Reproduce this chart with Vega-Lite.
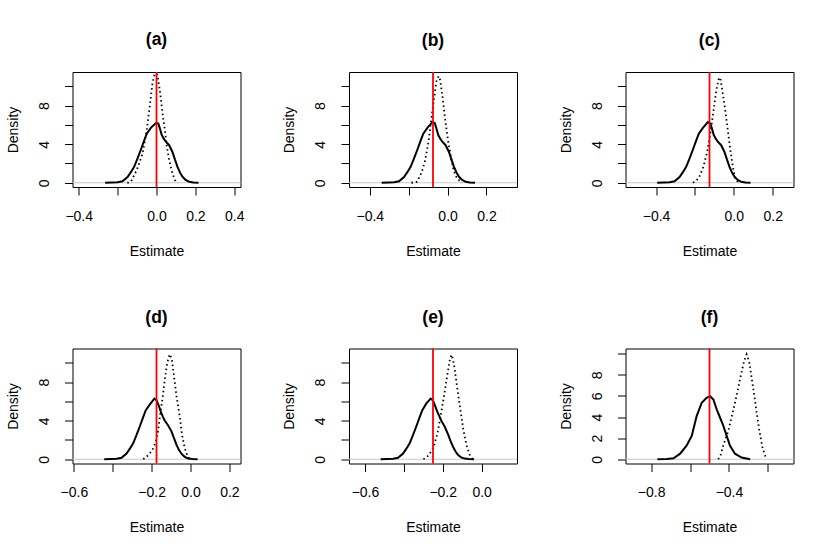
{
  "$schema": "https://vega.github.io/schema/vega-lite/v6.json",
  "padding": {"left": 5.5, "top": 30, "right": 0, "bottom": 0},
  "background": "white",
  "config": {
    "font": "Liberation Sans",
    "view": {"stroke": "black", "strokeWidth": 1},
    "axis": {"domain": false, "grid": false, "tickColor": "black", "tickWidth": 1, "tickSize": 8, "labelColor": "black", "labelFont": "Liberation Sans", "labelFontSize": 14, "titleFont": "Liberation Sans", "titleFontSize": 14, "titleFontWeight": "normal", "titleColor": "black", "labelOverlap": false, "labelFlush": false, "labelBound": false},
    "axisX": {"labelPadding": 25, "labelBaseline": "alphabetic", "labelAlign": "center", "titleX": 84, "titleY": 68, "titleBaseline": "alphabetic", "titleAlign": "center"},
    "axisY": {"labelAngle": 270, "labelAlign": "center", "labelBaseline": "alphabetic", "labelPadding": 16.4, "titleAngle": 270, "titleX": -55.3, "titleY": 57.5, "titleBaseline": "alphabetic", "titleAlign": "center"},
    "title": {"font": "Liberation Sans", "fontSize": 17.5, "fontWeight": "bold", "color": "black", "anchor": "middle", "frame": "group", "offset": 21.5, "baseline": "alphabetic"}
  },
  "datasets": {
    "dens": [
      {"panel":"a","kind":"solid","x":-0.264,"y":0},{"panel":"a","kind":"solid","x":-0.230,"y":0.02},{"panel":"a","kind":"solid","x":-0.200,"y":0.05},{"panel":"a","kind":"solid","x":-0.175,"y":0.15},{"panel":"a","kind":"solid","x":-0.149,"y":0.6},{"panel":"a","kind":"solid","x":-0.132,"y":1.1},{"panel":"a","kind":"solid","x":-0.115,"y":1.66},{"panel":"a","kind":"solid","x":-0.098,"y":2.5},{"panel":"a","kind":"solid","x":-0.081,"y":3.4},{"panel":"a","kind":"solid","x":-0.065,"y":4.3},{"panel":"a","kind":"solid","x":-0.050,"y":5.1},{"panel":"a","kind":"solid","x":-0.029,"y":5.7},{"panel":"a","kind":"solid","x":-0.003,"y":6.2},{"panel":"a","kind":"solid","x":0.009,"y":6.16},{"panel":"a","kind":"solid","x":0.018,"y":5.6},{"panel":"a","kind":"solid","x":0.027,"y":4.95},{"panel":"a","kind":"solid","x":0.038,"y":4.55},{"panel":"a","kind":"solid","x":0.048,"y":4.26},{"panel":"a","kind":"solid","x":0.065,"y":3.9},{"panel":"a","kind":"solid","x":0.082,"y":3.2},{"panel":"a","kind":"solid","x":0.095,"y":2.4},{"panel":"a","kind":"solid","x":0.108,"y":1.66},{"panel":"a","kind":"solid","x":0.121,"y":1.05},{"panel":"a","kind":"solid","x":0.134,"y":0.62},{"panel":"a","kind":"solid","x":0.150,"y":0.3},{"panel":"a","kind":"solid","x":0.168,"y":0.1},{"panel":"a","kind":"solid","x":0.190,"y":0.03},{"panel":"a","kind":"solid","x":0.216,"y":0},
      {"panel":"a","kind":"dotted","x":-0.150,"y":0},{"panel":"a","kind":"dotted","x":-0.135,"y":0.05},{"panel":"a","kind":"dotted","x":-0.127,"y":0.28},{"panel":"a","kind":"dotted","x":-0.100,"y":1.4},{"panel":"a","kind":"dotted","x":-0.072,"y":3.0},{"panel":"a","kind":"dotted","x":-0.051,"y":5.4},{"panel":"a","kind":"dotted","x":-0.033,"y":8.2},{"panel":"a","kind":"dotted","x":-0.021,"y":10.3},{"panel":"a","kind":"dotted","x":-0.009,"y":11.35},{"panel":"a","kind":"dotted","x":0.005,"y":11.2},{"panel":"a","kind":"dotted","x":0.019,"y":9.3},{"panel":"a","kind":"dotted","x":0.031,"y":7.2},{"panel":"a","kind":"dotted","x":0.043,"y":5.5},{"panel":"a","kind":"dotted","x":0.053,"y":3.8},{"panel":"a","kind":"dotted","x":0.065,"y":2.35},{"panel":"a","kind":"dotted","x":0.082,"y":0.97},{"panel":"a","kind":"dotted","x":0.099,"y":0.1},{"panel":"a","kind":"dotted","x":0.110,"y":0},
      {"panel":"b","kind":"solid","x":-0.339,"y":0},{"panel":"b","kind":"solid","x":-0.305,"y":0.02},{"panel":"b","kind":"solid","x":-0.275,"y":0.05},{"panel":"b","kind":"solid","x":-0.250,"y":0.15},{"panel":"b","kind":"solid","x":-0.224,"y":0.6},{"panel":"b","kind":"solid","x":-0.207,"y":1.1},{"panel":"b","kind":"solid","x":-0.190,"y":1.66},{"panel":"b","kind":"solid","x":-0.173,"y":2.5},{"panel":"b","kind":"solid","x":-0.156,"y":3.4},{"panel":"b","kind":"solid","x":-0.140,"y":4.3},{"panel":"b","kind":"solid","x":-0.125,"y":5.1},{"panel":"b","kind":"solid","x":-0.104,"y":5.7},{"panel":"b","kind":"solid","x":-0.078,"y":6.3},{"panel":"b","kind":"solid","x":-0.066,"y":6.2},{"panel":"b","kind":"solid","x":-0.057,"y":5.6},{"panel":"b","kind":"solid","x":-0.048,"y":4.95},{"panel":"b","kind":"solid","x":-0.037,"y":4.55},{"panel":"b","kind":"solid","x":-0.027,"y":4.26},{"panel":"b","kind":"solid","x":-0.010,"y":3.9},{"panel":"b","kind":"solid","x":0.007,"y":3.2},{"panel":"b","kind":"solid","x":0.020,"y":2.4},{"panel":"b","kind":"solid","x":0.033,"y":1.66},{"panel":"b","kind":"solid","x":0.046,"y":1.05},{"panel":"b","kind":"solid","x":0.059,"y":0.62},{"panel":"b","kind":"solid","x":0.075,"y":0.3},{"panel":"b","kind":"solid","x":0.093,"y":0.1},{"panel":"b","kind":"solid","x":0.115,"y":0.03},{"panel":"b","kind":"solid","x":0.141,"y":0},
      {"panel":"b","kind":"dotted","x":-0.186,"y":0},{"panel":"b","kind":"dotted","x":-0.157,"y":0.1},{"panel":"b","kind":"dotted","x":-0.132,"y":1.14},{"panel":"b","kind":"dotted","x":-0.115,"y":2.35},{"panel":"b","kind":"dotted","x":-0.097,"y":4.43},{"panel":"b","kind":"dotted","x":-0.080,"y":7.2},{"panel":"b","kind":"dotted","x":-0.068,"y":8.93},{"panel":"b","kind":"dotted","x":-0.058,"y":10.5},{"panel":"b","kind":"dotted","x":-0.046,"y":11.07},{"panel":"b","kind":"dotted","x":-0.038,"y":10.66},{"panel":"b","kind":"dotted","x":-0.024,"y":8.58},{"panel":"b","kind":"dotted","x":-0.012,"y":6.5},{"panel":"b","kind":"dotted","x":0.002,"y":4.43},{"panel":"b","kind":"dotted","x":0.017,"y":2.7},{"panel":"b","kind":"dotted","x":0.031,"y":1.31},{"panel":"b","kind":"dotted","x":0.048,"y":0.45},{"panel":"b","kind":"dotted","x":0.074,"y":0},
      {"panel":"c","kind":"solid","x":-0.394,"y":0},{"panel":"c","kind":"solid","x":-0.360,"y":0.02},{"panel":"c","kind":"solid","x":-0.330,"y":0.05},{"panel":"c","kind":"solid","x":-0.305,"y":0.15},{"panel":"c","kind":"solid","x":-0.279,"y":0.6},{"panel":"c","kind":"solid","x":-0.262,"y":1.1},{"panel":"c","kind":"solid","x":-0.245,"y":1.66},{"panel":"c","kind":"solid","x":-0.228,"y":2.5},{"panel":"c","kind":"solid","x":-0.211,"y":3.4},{"panel":"c","kind":"solid","x":-0.195,"y":4.3},{"panel":"c","kind":"solid","x":-0.180,"y":5.1},{"panel":"c","kind":"solid","x":-0.159,"y":5.7},{"panel":"c","kind":"solid","x":-0.133,"y":6.3},{"panel":"c","kind":"solid","x":-0.121,"y":6.15},{"panel":"c","kind":"solid","x":-0.112,"y":5.6},{"panel":"c","kind":"solid","x":-0.103,"y":4.95},{"panel":"c","kind":"solid","x":-0.092,"y":4.55},{"panel":"c","kind":"solid","x":-0.082,"y":4.26},{"panel":"c","kind":"solid","x":-0.065,"y":3.9},{"panel":"c","kind":"solid","x":-0.048,"y":3.2},{"panel":"c","kind":"solid","x":-0.035,"y":2.4},{"panel":"c","kind":"solid","x":-0.022,"y":1.66},{"panel":"c","kind":"solid","x":-0.009,"y":1.05},{"panel":"c","kind":"solid","x":0.004,"y":0.62},{"panel":"c","kind":"solid","x":0.020,"y":0.3},{"panel":"c","kind":"solid","x":0.038,"y":0.1},{"panel":"c","kind":"solid","x":0.060,"y":0.03},{"panel":"c","kind":"solid","x":0.086,"y":0},
      {"panel":"c","kind":"dotted","x":-0.210,"y":0},{"panel":"c","kind":"dotted","x":-0.181,"y":0.45},{"panel":"c","kind":"dotted","x":-0.156,"y":1.66},{"panel":"c","kind":"dotted","x":-0.135,"y":3.39},{"panel":"c","kind":"dotted","x":-0.118,"y":5.47},{"panel":"c","kind":"dotted","x":-0.104,"y":7.54},{"panel":"c","kind":"dotted","x":-0.091,"y":9.45},{"panel":"c","kind":"dotted","x":-0.079,"y":10.7},{"panel":"c","kind":"dotted","x":-0.070,"y":10.93},{"panel":"c","kind":"dotted","x":-0.058,"y":9.45},{"panel":"c","kind":"dotted","x":-0.044,"y":7.54},{"panel":"c","kind":"dotted","x":-0.031,"y":5.47},{"panel":"c","kind":"dotted","x":-0.019,"y":3.56},{"panel":"c","kind":"dotted","x":-0.005,"y":1.66},{"panel":"c","kind":"dotted","x":0.007,"y":0.45},{"panel":"c","kind":"dotted","x":0.024,"y":0},
      {"panel":"d","kind":"solid","x":-0.444,"y":0},{"panel":"d","kind":"solid","x":-0.410,"y":0.02},{"panel":"d","kind":"solid","x":-0.380,"y":0.05},{"panel":"d","kind":"solid","x":-0.355,"y":0.15},{"panel":"d","kind":"solid","x":-0.329,"y":0.6},{"panel":"d","kind":"solid","x":-0.312,"y":1.1},{"panel":"d","kind":"solid","x":-0.295,"y":1.66},{"panel":"d","kind":"solid","x":-0.278,"y":2.5},{"panel":"d","kind":"solid","x":-0.261,"y":3.4},{"panel":"d","kind":"solid","x":-0.245,"y":4.3},{"panel":"d","kind":"solid","x":-0.230,"y":5.1},{"panel":"d","kind":"solid","x":-0.209,"y":5.7},{"panel":"d","kind":"solid","x":-0.186,"y":6.3},{"panel":"d","kind":"solid","x":-0.174,"y":6.1},{"panel":"d","kind":"solid","x":-0.162,"y":5.5},{"panel":"d","kind":"solid","x":-0.153,"y":4.95},{"panel":"d","kind":"solid","x":-0.142,"y":4.4},{"panel":"d","kind":"solid","x":-0.132,"y":4.0},{"panel":"d","kind":"solid","x":-0.115,"y":3.5},{"panel":"d","kind":"solid","x":-0.098,"y":2.9},{"panel":"d","kind":"solid","x":-0.085,"y":2.2},{"panel":"d","kind":"solid","x":-0.072,"y":1.5},{"panel":"d","kind":"solid","x":-0.059,"y":0.95},{"panel":"d","kind":"solid","x":-0.046,"y":0.55},{"panel":"d","kind":"solid","x":-0.030,"y":0.25},{"panel":"d","kind":"solid","x":-0.012,"y":0.08},{"panel":"d","kind":"solid","x":0.010,"y":0.02},{"panel":"d","kind":"solid","x":0.036,"y":0},
      {"panel":"d","kind":"dotted","x":-0.243,"y":0},{"panel":"d","kind":"dotted","x":-0.222,"y":0.34},{"panel":"d","kind":"dotted","x":-0.197,"y":0.92},{"panel":"d","kind":"dotted","x":-0.179,"y":1.78},{"panel":"d","kind":"dotted","x":-0.168,"y":2.8},{"panel":"d","kind":"dotted","x":-0.157,"y":4.5},{"panel":"d","kind":"dotted","x":-0.145,"y":6.2},{"panel":"d","kind":"dotted","x":-0.132,"y":8.3},{"panel":"d","kind":"dotted","x":-0.120,"y":10.0},{"panel":"d","kind":"dotted","x":-0.108,"y":10.9},{"panel":"d","kind":"dotted","x":-0.097,"y":10.5},{"panel":"d","kind":"dotted","x":-0.085,"y":8.6},{"panel":"d","kind":"dotted","x":-0.072,"y":6.56},{"panel":"d","kind":"dotted","x":-0.056,"y":4.5},{"panel":"d","kind":"dotted","x":-0.043,"y":2.46},{"panel":"d","kind":"dotted","x":-0.029,"y":1.09},{"panel":"d","kind":"dotted","x":-0.014,"y":0.24},{"panel":"d","kind":"dotted","x":0.0,"y":0},
      {"panel":"e","kind":"solid","x":-0.519,"y":0},{"panel":"e","kind":"solid","x":-0.485,"y":0.02},{"panel":"e","kind":"solid","x":-0.455,"y":0.05},{"panel":"e","kind":"solid","x":-0.430,"y":0.15},{"panel":"e","kind":"solid","x":-0.404,"y":0.6},{"panel":"e","kind":"solid","x":-0.387,"y":1.1},{"panel":"e","kind":"solid","x":-0.370,"y":1.66},{"panel":"e","kind":"solid","x":-0.353,"y":2.5},{"panel":"e","kind":"solid","x":-0.336,"y":3.4},{"panel":"e","kind":"solid","x":-0.320,"y":4.3},{"panel":"e","kind":"solid","x":-0.305,"y":5.1},{"panel":"e","kind":"solid","x":-0.284,"y":5.8},{"panel":"e","kind":"solid","x":-0.262,"y":6.3},{"panel":"e","kind":"solid","x":-0.250,"y":6.1},{"panel":"e","kind":"solid","x":-0.240,"y":5.6},{"panel":"e","kind":"solid","x":-0.228,"y":4.95},{"panel":"e","kind":"solid","x":-0.217,"y":4.45},{"panel":"e","kind":"solid","x":-0.207,"y":4.0},{"panel":"e","kind":"solid","x":-0.190,"y":3.4},{"panel":"e","kind":"solid","x":-0.173,"y":2.6},{"panel":"e","kind":"solid","x":-0.160,"y":1.9},{"panel":"e","kind":"solid","x":-0.147,"y":1.3},{"panel":"e","kind":"solid","x":-0.134,"y":0.8},{"panel":"e","kind":"solid","x":-0.121,"y":0.45},{"panel":"e","kind":"solid","x":-0.105,"y":0.2},{"panel":"e","kind":"solid","x":-0.087,"y":0.07},{"panel":"e","kind":"solid","x":-0.065,"y":0.02},{"panel":"e","kind":"solid","x":-0.039,"y":0},
      {"panel":"e","kind":"dotted","x":-0.299,"y":0},{"panel":"e","kind":"dotted","x":-0.274,"y":0.37},{"panel":"e","kind":"dotted","x":-0.248,"y":1.2},{"panel":"e","kind":"dotted","x":-0.227,"y":2.7},{"panel":"e","kind":"dotted","x":-0.210,"y":4.6},{"panel":"e","kind":"dotted","x":-0.193,"y":6.6},{"panel":"e","kind":"dotted","x":-0.176,"y":8.8},{"panel":"e","kind":"dotted","x":-0.162,"y":10.5},{"panel":"e","kind":"dotted","x":-0.154,"y":10.85},{"panel":"e","kind":"dotted","x":-0.142,"y":9.83},{"panel":"e","kind":"dotted","x":-0.128,"y":7.8},{"panel":"e","kind":"dotted","x":-0.111,"y":5.4},{"panel":"e","kind":"dotted","x":-0.094,"y":3.07},{"panel":"e","kind":"dotted","x":-0.077,"y":1.39},{"panel":"e","kind":"dotted","x":-0.060,"y":0.37},{"panel":"e","kind":"dotted","x":-0.046,"y":0},
      {"panel":"f","kind":"solid","x":-0.768,"y":0},{"panel":"f","kind":"solid","x":-0.720,"y":0.03},{"panel":"f","kind":"solid","x":-0.685,"y":0.1},{"panel":"f","kind":"solid","x":-0.651,"y":0.53},{"panel":"f","kind":"solid","x":-0.617,"y":1.31},{"panel":"f","kind":"solid","x":-0.591,"y":2.24},{"panel":"f","kind":"solid","x":-0.566,"y":4.1},{"panel":"f","kind":"solid","x":-0.540,"y":5.36},{"panel":"f","kind":"solid","x":-0.515,"y":5.83},{"panel":"f","kind":"solid","x":-0.497,"y":5.98},{"panel":"f","kind":"solid","x":-0.480,"y":5.67},{"panel":"f","kind":"solid","x":-0.463,"y":4.73},{"panel":"f","kind":"solid","x":-0.446,"y":3.96},{"panel":"f","kind":"solid","x":-0.429,"y":3.18},{"panel":"f","kind":"solid","x":-0.412,"y":2.24},{"panel":"f","kind":"solid","x":-0.395,"y":1.31},{"panel":"f","kind":"solid","x":-0.369,"y":0.53},{"panel":"f","kind":"solid","x":-0.335,"y":0.16},{"panel":"f","kind":"solid","x":-0.291,"y":0},
      {"panel":"f","kind":"dotted","x":-0.455,"y":0},{"panel":"f","kind":"dotted","x":-0.443,"y":0.4},{"panel":"f","kind":"dotted","x":-0.429,"y":1.31},{"panel":"f","kind":"dotted","x":-0.403,"y":2.7},{"panel":"f","kind":"dotted","x":-0.381,"y":4.4},{"panel":"f","kind":"dotted","x":-0.361,"y":6.0},{"panel":"f","kind":"dotted","x":-0.340,"y":7.85},{"panel":"f","kind":"dotted","x":-0.323,"y":9.25},{"panel":"f","kind":"dotted","x":-0.309,"y":9.94},{"panel":"f","kind":"dotted","x":-0.296,"y":9.25},{"panel":"f","kind":"dotted","x":-0.279,"y":7.2},{"panel":"f","kind":"dotted","x":-0.262,"y":5.05},{"panel":"f","kind":"dotted","x":-0.245,"y":2.87},{"panel":"f","kind":"dotted","x":-0.228,"y":1.15},{"panel":"f","kind":"dotted","x":-0.210,"y":0.12},{"panel":"f","kind":"dotted","x":-0.207,"y":0}
    ],
    "truth": [
      {"panel":"a","x":0},{"panel":"b","x":-0.075},{"panel":"c","x":-0.125},{"panel":"d","x":-0.175},{"panel":"e","x":-0.25},{"panel":"f","x":-0.5}
    ],
    "zero": [{"y": 0}]
  },
  "columns": 3,
  "bounds": "flush",
  "spacing": {"row": 161.5, "column": 108.5},
  "concat": [
    {
      "title": "(a)", "width": 168, "height": 115,
      "layer": [
        {"data": {"name": "zero"}, "mark": {"type": "rule", "color": "#c8c8c8", "strokeWidth": 1}, "encoding": {"y": {"field": "y", "type": "quantitative", "scale": {"domain": [-0.44, 11.5], "nice": false, "zero": false}, "axis": {"title": "Density", "values": [0, 2, 4, 6, 8, 10], "format": "d", "labelExpr": "indexof([0, 4, 8], datum.value) >= 0 ? datum.label : ''"}}}},
        {"data": {"name": "dens"}, "transform": [{"filter": "datum.panel == 'a' && datum.kind == 'solid'"}], "mark": {"type": "line", "color": "black", "strokeWidth": 2}, "encoding": {
          "x": {"field": "x", "type": "quantitative", "scale": {"domain": [-0.432, 0.432], "nice": false, "zero": false}, "axis": {"title": "Estimate", "values": [-0.4, -0.2, 0, 0.2, 0.4], "format": ".1f", "labelExpr": "abs(datum.value + 0.2) < 1e-9 ? '' : datum.label"}},
          "y": {"field": "y", "type": "quantitative", "scale": {"domain": [-0.44, 11.5], "nice": false, "zero": false}, "axis": {"title": "Density", "values": [0, 2, 4, 6, 8, 10], "format": "d", "labelExpr": "indexof([0, 4, 8], datum.value) >= 0 ? datum.label : ''"}}}},
        {"data": {"name": "dens"}, "transform": [{"filter": "datum.panel == 'a' && datum.kind == 'dotted'"}], "mark": {"type": "line", "color": "black", "strokeWidth": 1.8, "strokeDash": [1.5, 3]}, "encoding": {
          "x": {"field": "x", "type": "quantitative", "scale": {"domain": [-0.432, 0.432], "nice": false, "zero": false}, "axis": {"title": "Estimate", "values": [-0.4, -0.2, 0, 0.2, 0.4], "format": ".1f", "labelExpr": "abs(datum.value + 0.2) < 1e-9 ? '' : datum.label"}},
          "y": {"field": "y", "type": "quantitative", "scale": {"domain": [-0.44, 11.5], "nice": false, "zero": false}, "axis": {"title": "Density", "values": [0, 2, 4, 6, 8, 10], "format": "d", "labelExpr": "indexof([0, 4, 8], datum.value) >= 0 ? datum.label : ''"}}}},
        {"data": {"name": "truth"}, "transform": [{"filter": "datum.panel == 'a'"}], "mark": {"type": "rule", "color": "#ff0000", "strokeWidth": 1.8}, "encoding": {"x": {"field": "x", "type": "quantitative", "scale": {"domain": [-0.432, 0.432], "nice": false, "zero": false}, "axis": {"title": "Estimate", "values": [-0.4, -0.2, 0, 0.2, 0.4], "format": ".1f", "labelExpr": "abs(datum.value + 0.2) < 1e-9 ? '' : datum.label"}}}}
      ]
    },
    {
      "title": "(b)", "width": 168, "height": 115,
      "layer": [
        {"data": {"name": "zero"}, "mark": {"type": "rule", "color": "#c8c8c8", "strokeWidth": 1}, "encoding": {"y": {"field": "y", "type": "quantitative", "scale": {"domain": [-0.44, 11.5], "nice": false, "zero": false}, "axis": {"title": "Density", "values": [0, 2, 4, 6, 8, 10], "format": "d", "labelExpr": "indexof([0, 4, 8], datum.value) >= 0 ? datum.label : ''"}}}},
        {"data": {"name": "dens"}, "transform": [{"filter": "datum.panel == 'b' && datum.kind == 'solid'"}], "mark": {"type": "line", "color": "black", "strokeWidth": 2}, "encoding": {
          "x": {"field": "x", "type": "quantitative", "scale": {"domain": [-0.507, 0.357], "nice": false, "zero": false}, "axis": {"title": "Estimate", "values": [-0.4, -0.2, 0, 0.2], "format": ".1f", "labelExpr": "abs(datum.value + 0.2) < 1e-9 ? '' : datum.label"}},
          "y": {"field": "y", "type": "quantitative", "scale": {"domain": [-0.44, 11.5], "nice": false, "zero": false}, "axis": {"title": "Density", "values": [0, 2, 4, 6, 8, 10], "format": "d", "labelExpr": "indexof([0, 4, 8], datum.value) >= 0 ? datum.label : ''"}}}},
        {"data": {"name": "dens"}, "transform": [{"filter": "datum.panel == 'b' && datum.kind == 'dotted'"}], "mark": {"type": "line", "color": "black", "strokeWidth": 1.8, "strokeDash": [1.5, 3]}, "encoding": {
          "x": {"field": "x", "type": "quantitative", "scale": {"domain": [-0.507, 0.357], "nice": false, "zero": false}, "axis": {"title": "Estimate", "values": [-0.4, -0.2, 0, 0.2], "format": ".1f", "labelExpr": "abs(datum.value + 0.2) < 1e-9 ? '' : datum.label"}},
          "y": {"field": "y", "type": "quantitative", "scale": {"domain": [-0.44, 11.5], "nice": false, "zero": false}, "axis": {"title": "Density", "values": [0, 2, 4, 6, 8, 10], "format": "d", "labelExpr": "indexof([0, 4, 8], datum.value) >= 0 ? datum.label : ''"}}}},
        {"data": {"name": "truth"}, "transform": [{"filter": "datum.panel == 'b'"}], "mark": {"type": "rule", "color": "#ff0000", "strokeWidth": 1.8}, "encoding": {"x": {"field": "x", "type": "quantitative", "scale": {"domain": [-0.507, 0.357], "nice": false, "zero": false}, "axis": {"title": "Estimate", "values": [-0.4, -0.2, 0, 0.2], "format": ".1f", "labelExpr": "abs(datum.value + 0.2) < 1e-9 ? '' : datum.label"}}}}
      ]
    },
    {
      "title": "(c)", "width": 168, "height": 115,
      "layer": [
        {"data": {"name": "zero"}, "mark": {"type": "rule", "color": "#c8c8c8", "strokeWidth": 1}, "encoding": {"y": {"field": "y", "type": "quantitative", "scale": {"domain": [-0.44, 11.5], "nice": false, "zero": false}, "axis": {"title": "Density", "values": [0, 2, 4, 6, 8, 10], "format": "d", "labelExpr": "indexof([0, 4, 8], datum.value) >= 0 ? datum.label : ''"}}}},
        {"data": {"name": "dens"}, "transform": [{"filter": "datum.panel == 'c' && datum.kind == 'solid'"}], "mark": {"type": "line", "color": "black", "strokeWidth": 2}, "encoding": {
          "x": {"field": "x", "type": "quantitative", "scale": {"domain": [-0.557, 0.307], "nice": false, "zero": false}, "axis": {"title": "Estimate", "values": [-0.4, -0.2, 0, 0.2], "format": ".1f", "labelExpr": "abs(datum.value + 0.2) < 1e-9 ? '' : datum.label"}},
          "y": {"field": "y", "type": "quantitative", "scale": {"domain": [-0.44, 11.5], "nice": false, "zero": false}, "axis": {"title": "Density", "values": [0, 2, 4, 6, 8, 10], "format": "d", "labelExpr": "indexof([0, 4, 8], datum.value) >= 0 ? datum.label : ''"}}}},
        {"data": {"name": "dens"}, "transform": [{"filter": "datum.panel == 'c' && datum.kind == 'dotted'"}], "mark": {"type": "line", "color": "black", "strokeWidth": 1.8, "strokeDash": [1.5, 3]}, "encoding": {
          "x": {"field": "x", "type": "quantitative", "scale": {"domain": [-0.557, 0.307], "nice": false, "zero": false}, "axis": {"title": "Estimate", "values": [-0.4, -0.2, 0, 0.2], "format": ".1f", "labelExpr": "abs(datum.value + 0.2) < 1e-9 ? '' : datum.label"}},
          "y": {"field": "y", "type": "quantitative", "scale": {"domain": [-0.44, 11.5], "nice": false, "zero": false}, "axis": {"title": "Density", "values": [0, 2, 4, 6, 8, 10], "format": "d", "labelExpr": "indexof([0, 4, 8], datum.value) >= 0 ? datum.label : ''"}}}},
        {"data": {"name": "truth"}, "transform": [{"filter": "datum.panel == 'c'"}], "mark": {"type": "rule", "color": "#ff0000", "strokeWidth": 1.8}, "encoding": {"x": {"field": "x", "type": "quantitative", "scale": {"domain": [-0.557, 0.307], "nice": false, "zero": false}, "axis": {"title": "Estimate", "values": [-0.4, -0.2, 0, 0.2], "format": ".1f", "labelExpr": "abs(datum.value + 0.2) < 1e-9 ? '' : datum.label"}}}}
      ]
    },
    {
      "title": "(d)", "width": 168, "height": 115,
      "layer": [
        {"data": {"name": "zero"}, "mark": {"type": "rule", "color": "#c8c8c8", "strokeWidth": 1}, "encoding": {"y": {"field": "y", "type": "quantitative", "scale": {"domain": [-0.44, 11.5], "nice": false, "zero": false}, "axis": {"title": "Density", "values": [0, 2, 4, 6, 8, 10], "format": "d", "labelExpr": "indexof([0, 4, 8], datum.value) >= 0 ? datum.label : ''"}}}},
        {"data": {"name": "dens"}, "transform": [{"filter": "datum.panel == 'd' && datum.kind == 'solid'"}], "mark": {"type": "line", "color": "black", "strokeWidth": 2}, "encoding": {
          "x": {"field": "x", "type": "quantitative", "scale": {"domain": [-0.607, 0.257], "nice": false, "zero": false}, "axis": {"title": "Estimate", "values": [-0.6, -0.4, -0.2, 0, 0.2], "format": ".1f", "labelExpr": "abs(datum.value + 0.4) < 1e-9 ? '' : datum.label"}},
          "y": {"field": "y", "type": "quantitative", "scale": {"domain": [-0.44, 11.5], "nice": false, "zero": false}, "axis": {"title": "Density", "values": [0, 2, 4, 6, 8, 10], "format": "d", "labelExpr": "indexof([0, 4, 8], datum.value) >= 0 ? datum.label : ''"}}}},
        {"data": {"name": "dens"}, "transform": [{"filter": "datum.panel == 'd' && datum.kind == 'dotted'"}], "mark": {"type": "line", "color": "black", "strokeWidth": 1.8, "strokeDash": [1.5, 3]}, "encoding": {
          "x": {"field": "x", "type": "quantitative", "scale": {"domain": [-0.607, 0.257], "nice": false, "zero": false}, "axis": {"title": "Estimate", "values": [-0.6, -0.4, -0.2, 0, 0.2], "format": ".1f", "labelExpr": "abs(datum.value + 0.4) < 1e-9 ? '' : datum.label"}},
          "y": {"field": "y", "type": "quantitative", "scale": {"domain": [-0.44, 11.5], "nice": false, "zero": false}, "axis": {"title": "Density", "values": [0, 2, 4, 6, 8, 10], "format": "d", "labelExpr": "indexof([0, 4, 8], datum.value) >= 0 ? datum.label : ''"}}}},
        {"data": {"name": "truth"}, "transform": [{"filter": "datum.panel == 'd'"}], "mark": {"type": "rule", "color": "#ff0000", "strokeWidth": 1.8}, "encoding": {"x": {"field": "x", "type": "quantitative", "scale": {"domain": [-0.607, 0.257], "nice": false, "zero": false}, "axis": {"title": "Estimate", "values": [-0.6, -0.4, -0.2, 0, 0.2], "format": ".1f", "labelExpr": "abs(datum.value + 0.4) < 1e-9 ? '' : datum.label"}}}}
      ]
    },
    {
      "title": "(e)", "width": 168, "height": 115,
      "layer": [
        {"data": {"name": "zero"}, "mark": {"type": "rule", "color": "#c8c8c8", "strokeWidth": 1}, "encoding": {"y": {"field": "y", "type": "quantitative", "scale": {"domain": [-0.44, 11.5], "nice": false, "zero": false}, "axis": {"title": "Density", "values": [0, 2, 4, 6, 8, 10], "format": "d", "labelExpr": "indexof([0, 4, 8], datum.value) >= 0 ? datum.label : ''"}}}},
        {"data": {"name": "dens"}, "transform": [{"filter": "datum.panel == 'e' && datum.kind == 'solid'"}], "mark": {"type": "line", "color": "black", "strokeWidth": 2}, "encoding": {
          "x": {"field": "x", "type": "quantitative", "scale": {"domain": [-0.682, 0.182], "nice": false, "zero": false}, "axis": {"title": "Estimate", "values": [-0.6, -0.4, -0.2, 0], "format": ".1f", "labelExpr": "abs(datum.value + 0.4) < 1e-9 ? '' : datum.label"}},
          "y": {"field": "y", "type": "quantitative", "scale": {"domain": [-0.44, 11.5], "nice": false, "zero": false}, "axis": {"title": "Density", "values": [0, 2, 4, 6, 8, 10], "format": "d", "labelExpr": "indexof([0, 4, 8], datum.value) >= 0 ? datum.label : ''"}}}},
        {"data": {"name": "dens"}, "transform": [{"filter": "datum.panel == 'e' && datum.kind == 'dotted'"}], "mark": {"type": "line", "color": "black", "strokeWidth": 1.8, "strokeDash": [1.5, 3]}, "encoding": {
          "x": {"field": "x", "type": "quantitative", "scale": {"domain": [-0.682, 0.182], "nice": false, "zero": false}, "axis": {"title": "Estimate", "values": [-0.6, -0.4, -0.2, 0], "format": ".1f", "labelExpr": "abs(datum.value + 0.4) < 1e-9 ? '' : datum.label"}},
          "y": {"field": "y", "type": "quantitative", "scale": {"domain": [-0.44, 11.5], "nice": false, "zero": false}, "axis": {"title": "Density", "values": [0, 2, 4, 6, 8, 10], "format": "d", "labelExpr": "indexof([0, 4, 8], datum.value) >= 0 ? datum.label : ''"}}}},
        {"data": {"name": "truth"}, "transform": [{"filter": "datum.panel == 'e'"}], "mark": {"type": "rule", "color": "#ff0000", "strokeWidth": 1.8}, "encoding": {"x": {"field": "x", "type": "quantitative", "scale": {"domain": [-0.682, 0.182], "nice": false, "zero": false}, "axis": {"title": "Estimate", "values": [-0.6, -0.4, -0.2, 0], "format": ".1f", "labelExpr": "abs(datum.value + 0.4) < 1e-9 ? '' : datum.label"}}}}
      ]
    },
    {
      "title": "(f)", "width": 168, "height": 115,
      "layer": [
        {"data": {"name": "zero"}, "mark": {"type": "rule", "color": "#c8c8c8", "strokeWidth": 1}, "encoding": {"y": {"field": "y", "type": "quantitative", "scale": {"domain": [-0.4, 10.5], "nice": false, "zero": false}, "axis": {"title": "Density", "values": [0, 2, 4, 6, 8, 10], "format": "d", "labelExpr": "indexof([0, 2, 4, 6, 8], datum.value) >= 0 ? datum.label : ''"}}}},
        {"data": {"name": "dens"}, "transform": [{"filter": "datum.panel == 'f' && datum.kind == 'solid'"}], "mark": {"type": "line", "color": "black", "strokeWidth": 2}, "encoding": {
          "x": {"field": "x", "type": "quantitative", "scale": {"domain": [-0.932, -0.068], "nice": false, "zero": false}, "axis": {"title": "Estimate", "values": [-0.8, -0.6, -0.4, -0.2], "format": ".1f", "labelExpr": "(abs(datum.value + 0.6) < 1e-9 || abs(datum.value + 0.2) < 1e-9) ? '' : datum.label"}},
          "y": {"field": "y", "type": "quantitative", "scale": {"domain": [-0.4, 10.5], "nice": false, "zero": false}, "axis": {"title": "Density", "values": [0, 2, 4, 6, 8, 10], "format": "d", "labelExpr": "indexof([0, 2, 4, 6, 8], datum.value) >= 0 ? datum.label : ''"}}}},
        {"data": {"name": "dens"}, "transform": [{"filter": "datum.panel == 'f' && datum.kind == 'dotted'"}], "mark": {"type": "line", "color": "black", "strokeWidth": 1.8, "strokeDash": [1.5, 3]}, "encoding": {
          "x": {"field": "x", "type": "quantitative", "scale": {"domain": [-0.932, -0.068], "nice": false, "zero": false}, "axis": {"title": "Estimate", "values": [-0.8, -0.6, -0.4, -0.2], "format": ".1f", "labelExpr": "(abs(datum.value + 0.6) < 1e-9 || abs(datum.value + 0.2) < 1e-9) ? '' : datum.label"}},
          "y": {"field": "y", "type": "quantitative", "scale": {"domain": [-0.4, 10.5], "nice": false, "zero": false}, "axis": {"title": "Density", "values": [0, 2, 4, 6, 8, 10], "format": "d", "labelExpr": "indexof([0, 2, 4, 6, 8], datum.value) >= 0 ? datum.label : ''"}}}},
        {"data": {"name": "truth"}, "transform": [{"filter": "datum.panel == 'f'"}], "mark": {"type": "rule", "color": "#ff0000", "strokeWidth": 1.8}, "encoding": {"x": {"field": "x", "type": "quantitative", "scale": {"domain": [-0.932, -0.068], "nice": false, "zero": false}, "axis": {"title": "Estimate", "values": [-0.8, -0.6, -0.4, -0.2], "format": ".1f", "labelExpr": "(abs(datum.value + 0.6) < 1e-9 || abs(datum.value + 0.2) < 1e-9) ? '' : datum.label"}}}}
      ]
    }
  ]
}
